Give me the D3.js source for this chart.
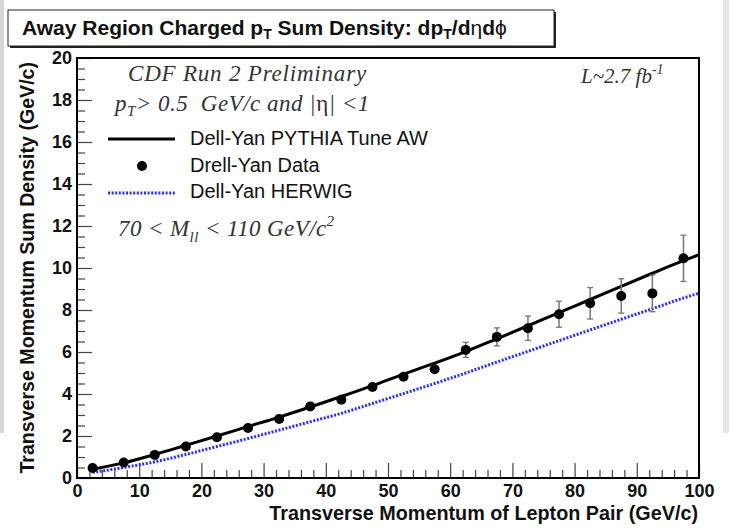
<!DOCTYPE html>
<html lang="en">
<head>
<meta charset="UTF-8">
<title>Away Region Charged pT Sum Density</title>
<script src="https://d3js.org/d3.v7.min.js"></script>
<style>
    body { margin: 0; background: #fff; }
    svg { display: block; }
    .tick text { font-family: "Liberation Sans", Arial, sans-serif; font-weight: bold; font-size: 18px; fill: #111; }
    .serif { font-family: "Liberation Serif", "Times New Roman", serif; font-style: italic; fill: #333; }
    .sans { font-family: "Liberation Sans", Arial, sans-serif; fill: #111; }
</style>
</head>
<body>
<svg id="chart" width="729" height="532"></svg>
<script>
// data points (bin centres in GeV/c) with stat errors
const dataPt      = [2.5, 7.5, 12.5, 17.5, 22.5, 27.5, 32.5, 37.5, 42.5, 47.5, 52.5, 57.5, 62.5, 67.5, 72.5, 77.5, 82.5, 87.5, 92.5, 97.5];
const dataDensity = [0.48, 0.74, 1.1, 1.5, 1.94, 2.38, 2.81, 3.41, 3.73, 4.33, 4.82, 5.18, 6.1, 6.72, 7.13, 7.8, 8.32, 8.67, 8.79, 10.46];
const dataErr     = [0.05, 0.05, 0.06, 0.07, 0.08, 0.09, 0.1, 0.11, 0.13, 0.15, 0.17, 0.22, 0.36, 0.43, 0.58, 0.62, 0.75, 0.82, 0.87, 1.1];

// curves
const curvePt        = [2.5, 7.5, 12.5, 17.5, 22.5, 27.5, 32.5, 37.5, 42.5, 47.5, 52.5, 57.5, 62.5, 67.5, 72.5, 77.5, 82.5, 87.5, 92.5, 97.5, 100];
const pythiaDensity  = [0.42, 0.72, 1.12, 1.56, 2.0, 2.45, 2.9, 3.38, 3.88, 4.4, 4.95, 5.47, 6.02, 6.63, 7.25, 7.88, 8.5, 9.13, 9.75, 10.35, 10.63];
const herwigDensity  = [0.27, 0.5, 0.77, 1.12, 1.5, 1.88, 2.28, 2.68, 3.08, 3.55, 4.02, 4.5, 5.0, 5.52, 6.03, 6.54, 7.05, 7.56, 8.06, 8.57, 8.8];

const xMajor = [0, 10, 20, 30, 40, 50, 60, 70, 80, 90, 100];
const yMajor = [0, 2, 4, 6, 8, 10, 12, 14, 16, 18, 20];

const svg = d3.select("#chart");

// grey strips at page edges
svg.append("rect").attr("x", 0).attr("y", 0).attr("width", 4).attr("height", 433).attr("fill", "#d6d6d6");
svg.append("rect").attr("x", 723).attr("y", 0).attr("width", 6).attr("height", 433).attr("fill", "#e8e8e8");

const x = d3.scaleLinear().domain([0, 100]).range([77, 699]);
const y = d3.scaleLinear().domain([0, 20]).range([478, 58]);

// title box with shadow
svg.append("rect").attr("x", 10).attr("y", 12).attr("width", 546).attr("height", 36).attr("fill", "#222");
svg.append("rect").attr("x", 8).attr("y", 10).attr("width", 546).attr("height", 36)
    .attr("fill", "#fff").attr("stroke", "#222").attr("stroke-width", 1);
const title = svg.append("text").attr("class", "sans").attr("x", 22).attr("y", 35)
    .attr("font-size", 21).attr("font-weight", "bold");
title.append("tspan").text("Away Region Charged p");
title.append("tspan").attr("font-size", 14).attr("dy", 4).text("T");
title.append("tspan").attr("dy", -4).text(" Sum Density: dp");
title.append("tspan").attr("font-size", 14).attr("dy", 4).text("T");
title.append("tspan").attr("dy", -4).text("/d");
title.append("tspan").attr("font-weight", "normal").text("η");
title.append("tspan").text("d");
title.append("tspan").attr("font-weight", "normal").text("ϕ");

// axes (ticks pointing inward)
const gx = svg.append("g").attr("transform", "translate(0,478)");
gx.call(d3.axisBottom(x).tickValues(d3.range(0, 101, 2)).tickSize(-8).tickFormat(""));
gx.call(g => g.selectAll(".tick").filter(d => d % 10 === 0).select("line").attr("y2", -15));
gx.selectAll(".tick text").remove();
const gxl = svg.append("g").attr("transform", "translate(0,478)")
    .call(d3.axisBottom(x).tickValues(xMajor).tickSize(0).tickPadding(6));

const gy = svg.append("g").attr("transform", "translate(77,0)");
gy.call(d3.axisLeft(y).tickValues(d3.range(0, 20.01, 0.5)).tickSize(-8).tickFormat(""));
gy.call(g => g.selectAll(".tick").filter(d => Math.abs(d % 2) < 1e-6).select("line").attr("x2", 15));
const gyl = svg.append("g").attr("transform", "translate(77,0)")
    .call(d3.axisLeft(y).tickValues(yMajor).tickSize(0).tickPadding(5));

[gx, gxl, gy, gyl].forEach(g => {
    g.select(".domain").remove();
    g.selectAll(".tick line").attr("stroke", "#444").attr("stroke-width", 1.2);
});

// curves
const line = d3.line().x((d, i) => x(curvePt[i])).y(d => y(d)).curve(d3.curveMonotoneX);
svg.append("path").datum(herwigDensity).attr("d", line)
    .attr("fill", "none").attr("stroke", "#2b2bff").attr("stroke-width", 3).attr("stroke-dasharray", "2,1.6");
svg.append("path").datum(pythiaDensity).attr("d", line)
    .attr("fill", "none").attr("stroke", "#000").attr("stroke-width", 3);

// data with error bars
const idx = dataPt.map((d, i) => i);
const errG = svg.append("g").attr("stroke", "#777");
errG.selectAll("line.bar").data(idx).join("line").attr("class", "bar")
    .attr("x1", i => x(dataPt[i])).attr("x2", i => x(dataPt[i]))
    .attr("y1", i => y(dataDensity[i] + dataErr[i])).attr("y2", i => y(dataDensity[i] - dataErr[i]))
    .attr("stroke-width", 1.5);
const capIdx = idx.filter(i => dataErr[i] > 0.3);
errG.selectAll("line.capTop").data(capIdx).join("line").attr("class", "capTop")
    .attr("x1", i => x(dataPt[i]) - 3).attr("x2", i => x(dataPt[i]) + 3)
    .attr("y1", i => y(dataDensity[i] + dataErr[i])).attr("y2", i => y(dataDensity[i] + dataErr[i]))
    .attr("stroke-width", 1.3);
errG.selectAll("line.capBot").data(capIdx).join("line").attr("class", "capBot")
    .attr("x1", i => x(dataPt[i]) - 3).attr("x2", i => x(dataPt[i]) + 3)
    .attr("y1", i => y(dataDensity[i] - dataErr[i])).attr("y2", i => y(dataDensity[i] - dataErr[i]))
    .attr("stroke-width", 1.3);
svg.append("g").selectAll("circle").data(idx).join("circle")
    .attr("cx", i => x(dataPt[i])).attr("cy", i => y(dataDensity[i])).attr("r", 5).attr("fill", "#000");

// frame
svg.append("rect").attr("x", 77).attr("y", 58).attr("width", 622).attr("height", 420)
    .attr("fill", "none").attr("stroke", "#000").attr("stroke-width", 2);

// axis titles
svg.append("text").attr("class", "sans").attr("font-weight", "bold").attr("font-size", 19.8)
    .attr("text-anchor", "end").attr("x", 698).attr("y", 520)
    .text("Transverse Momentum of Lepton Pair (GeV/c)");
svg.append("text").attr("class", "sans").attr("font-weight", "bold").attr("font-size", 19.6)
    .attr("text-anchor", "end").attr("transform", "translate(34,62) rotate(-90)")
    .text("Transverse Momentum Sum Density (GeV/c)");

// annotations
svg.append("text").attr("class", "serif").attr("font-size", 23).attr("letter-spacing", 0.8)
    .attr("x", 128).attr("y", 81).text("CDF Run 2 Preliminary");

const cut = svg.append("text").attr("class", "serif").attr("font-size", 23).attr("letter-spacing", 0.5)
    .attr("x", 115).attr("y", 111);
cut.append("tspan").text("p");
cut.append("tspan").attr("font-size", 15).attr("dy", 5).text("T");
cut.append("tspan").attr("dy", -5).text("> 0.5\u00a0\u00a0GeV/c and |");
cut.append("tspan").attr("font-style", "normal").text("η");
cut.append("tspan").text("| <1");

const lumi = svg.append("text").attr("class", "serif").attr("font-size", 21).attr("x", 581).attr("y", 83);
lumi.append("tspan").text("L~2.7 fb");
lumi.append("tspan").attr("font-size", 14).attr("dy", -9).text("-1");

const mass = svg.append("text").attr("class", "serif").attr("font-size", 23).attr("letter-spacing", 0.4)
    .attr("x", 118).attr("y", 236);
mass.append("tspan").text("70 < M");
mass.append("tspan").attr("font-size", 15).attr("dy", 6).text("ll");
mass.append("tspan").attr("dy", -6).text(" < 110 GeV/c");
mass.append("tspan").attr("font-size", 15).attr("dy", -10).text("2");

// legend
const legend = svg.append("g");
legend.append("line").attr("x1", 108).attr("x2", 175).attr("y1", 139).attr("y2", 139)
    .attr("stroke", "#000").attr("stroke-width", 3);
legend.append("circle").attr("cx", 142).attr("cy", 166).attr("r", 5).attr("fill", "#000");
legend.append("line").attr("x1", 108).attr("x2", 175).attr("y1", 193).attr("y2", 193)
    .attr("stroke", "#2b2bff").attr("stroke-width", 3).attr("stroke-dasharray", "2,1.6");
const legendLabels = ["Dell-Yan PYTHIA Tune AW", "Drell-Yan Data", "Dell-Yan HERWIG"];
legend.selectAll("text.lg").data(legendLabels).join("text")
    .attr("class", "sans lg").attr("font-size", 20).attr("fill", "#222")
    .attr("x", 190).attr("y", (d, i) => 145 + i * 26.5).text(d => d);
</script>
</body>
</html>
